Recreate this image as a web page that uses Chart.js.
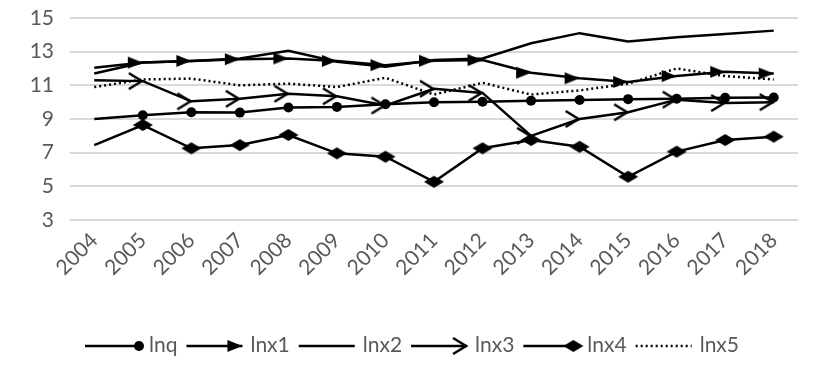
<!DOCTYPE html>
<html>
<head>
<meta charset="utf-8">
<script src="https://cdn.jsdelivr.net/npm/chart.js@4/dist/chart.umd.min.js"></script>
<style>
  html, body { margin: 0; padding: 0; background: #fff; }
</style>
</head>
<body>
<canvas id="myChart" width="817" height="372"></canvas>
<script>
var years = ['2004', '2005', '2006', '2007', '2008', '2009', '2010', '2011', '2012', '2013', '2014', '2015', '2016', '2017', '2018']
var lnq  = [9.0, 9.22, 9.4, 9.38, 9.68, 9.72, 9.88, 10.0, 10.03, 10.08, 10.13, 10.18, 10.2, 10.26, 10.28]
var lnx1 = [11.7, 12.35, 12.45, 12.55, 12.6, 12.45, 12.2, 12.46, 12.5, 11.75, 11.42, 11.2, 11.55, 11.8, 11.7]
var lnx2 = [12.05, 12.35, 12.45, 12.6, 13.05, 12.4, 12.1, 12.5, 12.6, 13.5, 14.1, 13.6, 13.85, 14.05, 14.25]
var lnx3 = [11.3, 11.25, 10.05, 10.2, 10.5, 10.35, 9.8, 10.8, 10.55, 8.0, 9.0, 9.4, 10.15, 9.95, 10.0]
var lnx4 = [7.45, 8.64, 7.26, 7.45, 8.05, 6.96, 6.76, 5.27, 7.26, 7.75, 7.35, 5.57, 7.06, 7.75, 7.95]
var lnx5 = [10.9, 11.35, 11.4, 11.0, 11.1, 10.9, 11.45, 10.45, 11.15, 10.45, 10.7, 11.1, 12.0, 11.55, 11.35]
var yTicks = [3, 5, 7, 9, 11, 13, 15]

var INK = '#000000'
var LABEL = '#595959'
var FONT = 'Lato, "Open Sans", sans-serif'

// marker shapes; arrow tips sit on the data point, so the shape fills the left half
function markerCanvas(kind) {
  var c = document.createElement('canvas')
  var g = c.getContext('2d')
  if (kind === 'triangle') {
    c.width = 34; c.height = 16
    g.fillStyle = INK
    g.beginPath(); g.moveTo(2, 2); g.lineTo(17, 8); g.lineTo(2, 14); g.closePath(); g.fill()
  } else if (kind === 'arrow') {
    c.width = 34; c.height = 20
    g.strokeStyle = INK; g.lineWidth = 2.5; g.lineJoin = 'miter'
    g.beginPath(); g.moveTo(3, 2); g.lineTo(16, 10); g.lineTo(3, 18); g.stroke()
  } else if (kind === 'diamond') {
    c.width = 22; c.height = 16
    g.fillStyle = INK
    g.beginPath(); g.moveTo(1, 8); g.lineTo(11, 2); g.lineTo(21, 8); g.lineTo(11, 14); g.closePath(); g.fill()
  }
  return c
}

var triMarker = markerCanvas('triangle')
var arrowMarker = markerCanvas('arrow')
var diaMarker = markerCanvas('diamond')

// the first year carries no marker, only the line start
function markerRadius(ctx) {
  return ctx.dataIndex === 0 ? 0 : 5
}

function series(label, data, style, extra) {
  var ds = {
    label: label,
    data: data,
    borderColor: INK,
    backgroundColor: INK,
    borderWidth: 2.5,
    tension: 0,
    pointStyle: style || false,
    pointRadius: style ? markerRadius : 0,
    pointBorderWidth: 0,
    pointBackgroundColor: INK,
    pointBorderColor: INK
  }
  return Object.assign(ds, extra || {})
}

var datasets = [
  series('lnq', lnq, 'circle'),
  series('lnx1', lnx1, triMarker),
  series('lnx2', lnx2, null),
  series('lnx3', lnx3, arrowMarker),
  series('lnx4', lnx4, diaMarker),
  series('lnx5', lnx5, null, { borderDash: [2, 3] })
]

// legend in one row: line sample with its marker at the right end, then the name
var legendRow = {
  id: 'legendRow',
  afterDraw: function(chart) {
    var ctx = chart.ctx
    var y = 346
    var x = 85
    ctx.save()
    ctx.font = '21px ' + FONT
    ctx.textBaseline = 'middle'
    chart.data.datasets.forEach(function(ds) {
      var len = 56
      ctx.strokeStyle = INK
      ctx.lineWidth = 2.5
      ctx.setLineDash(ds.borderDash || [])
      ctx.beginPath(); ctx.moveTo(x, y); ctx.lineTo(x + len, y); ctx.stroke()
      ctx.setLineDash([])
      var ps = ds.pointStyle
      if (ps === 'circle') {
        ctx.fillStyle = INK
        ctx.beginPath(); ctx.arc(x + len - 2, y, 5, 0, Math.PI * 2); ctx.fill()
      } else if (ps) {
        var cx = (ps === diaMarker) ? x + len - 6 : x + len
        ctx.drawImage(ps, cx - ps.width / 2, y - ps.height / 2)
      }
      x += len + 8
      ctx.fillStyle = LABEL
      ctx.fillText(ds.label, x, y - 1)
      x += ctx.measureText(ds.label).width + 9
    })
    ctx.restore()
  }
}

var chart = new Chart(document.getElementById('myChart'), {
  type: 'line',
  data: { labels: years, datasets: datasets },
  plugins: [legendRow],
  options: {
    responsive: false,
    animation: false,
    devicePixelRatio: 1,
    layout: { padding: { top: 18, right: 19, bottom: 92, left: 0 } },
    plugins: { legend: { display: false }, tooltip: { enabled: false } },
    scales: {
      x: {
        offset: true,
        grid: { display: false, drawTicks: false },
        border: { display: false },
        ticks: {
          color: LABEL,
          font: { family: FONT, size: 21 },
          minRotation: 45,
          maxRotation: 45,
          padding: 8,
          autoSkip: false
        },
        afterFit: function(scale) { scale.height = 60 }
      },
      y: {
        min: 3,
        max: 15,
        afterBuildTicks: function(scale) {
          scale.ticks = yTicks.map(function(v) { return { value: v } })
        },
        // invisible tick marks keep the labels clear of the gridlines
        grid: { color: '#d9d9d9', lineWidth: 2, drawTicks: true, tickLength: 16, tickColor: 'rgba(0,0,0,0)' },
        border: { display: false },
        ticks: {
          color: LABEL,
          font: { family: FONT, size: 21 },
          padding: 0
        },
        afterFit: function(scale) { scale.width = 70 }
      }
    }
  }
})
</script>
</body>
</html>
